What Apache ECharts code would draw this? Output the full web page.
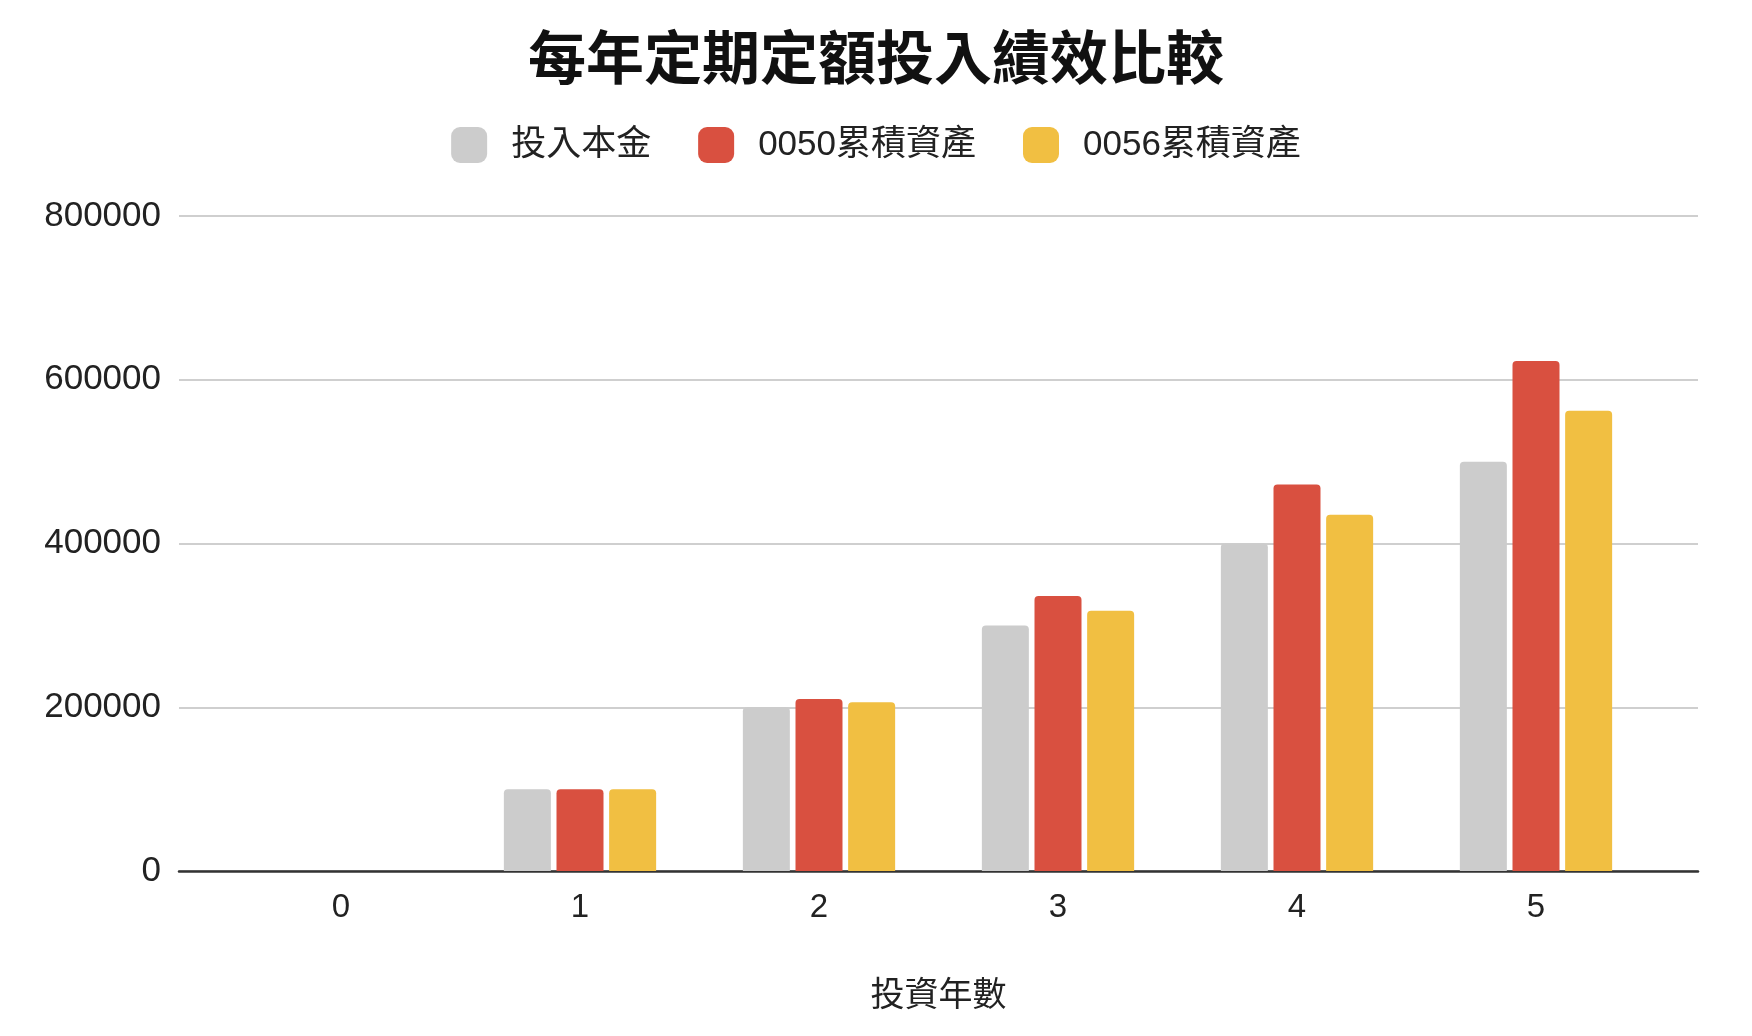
<!DOCTYPE html>
<html>
<head>
<meta charset="utf-8">
<script src="https://cdn.jsdelivr.net/npm/echarts@6/dist/echarts.min.js"></script>
<style>
html,body{margin:0;padding:0;background:#fff;}
#chart{width:1752px;height:1036px;}
</style>
</head>
<body>
<div id="chart"></div>
<script>
const titleText = '每年定期定額投入績效比較';
const xAxisName = '投資年數';
const categories = ['0', '1', '2', '3', '4', '5'];
const seriesNames = ['投入本金', '0050累積資產', '0056累積資產'];
const principal = [0, 100000, 200000, 300000, 400000, 500000];
const asset0050 = [0, 100000, 210000, 336000, 472000, 623000];
const asset0056 = [0, 100000, 206000, 318000, 435000, 562000];
const yTicks = [0, 200000, 400000, 600000, 800000];
const colors = ['#cccccc', '#d95040', '#f1bf42'];

const FONT = "'Liberation Sans', 'Noto Sans CJK TC', sans-serif";
const CJK = "'Noto Sans CJK TC', 'Liberation Sans', sans-serif";
const yMin = yTicks[0], yMax = yTicks[yTicks.length - 1];
const yInterval = yTicks[1] - yTicks[0];

const chart = echarts.init(document.getElementById('chart'), null, {renderer: 'canvas'});
const values = [principal, asset0050, asset0056];

chart.setOption({
  backgroundColor: '#ffffff',
  animation: false,
  title: {
    text: titleText,
    left: 'center',
    top: 23,
    textStyle: {fontFamily: CJK, fontSize: 58, fontWeight: 'bold', color: '#111'}
  },
  legend: {
    data: seriesNames,
    left: 'center',
    top: 122,
    itemWidth: 36,
    itemHeight: 36,
    itemGap: 47,
    icon: 'roundRect',
    textStyle: {fontFamily: FONT, fontSize: 35, color: '#222', padding: [0, 0, 0, 19]}
  },
  grid: [
    {left: 179, right: 54, top: 216, bottom: 165, containLabel: false},
    {left: 221.5, right: 96.5, top: 216, bottom: 165, containLabel: false}
  ],
  xAxis: [
    {
      gridIndex: 0, type: 'value', min: 0, max: 1,
      name: xAxisName, nameLocation: 'middle', nameGap: 105,
      nameTextStyle: {fontFamily: CJK, fontSize: 34, color: '#222'},
      axisLine: {show: true, lineStyle: {color: '#333', width: 2.5}},
      axisTick: {show: false}, axisLabel: {show: false}, splitLine: {show: false}
    },
    {
      gridIndex: 1, type: 'category', data: categories,
      axisLine: {show: false}, axisTick: {show: false},
      axisLabel: {fontFamily: FONT, fontSize: 33, color: '#222', margin: 20},
      splitLine: {show: false}
    }
  ],
  yAxis: [
    {
      gridIndex: 0, type: 'value', min: yMin, max: yMax, interval: yInterval,
      axisLine: {show: false}, axisTick: {show: false},
      axisLabel: {fontFamily: FONT, fontSize: 35, color: '#222', margin: 18,
        formatter: v => String(v)},
      splitLine: {show: true, lineStyle: {color: '#cfcfcf', width: 2}}
    },
    {
      gridIndex: 1, type: 'value', min: yMin, max: yMax, interval: yInterval,
      show: false, splitLine: {show: false}
    }
  ],
  series: seriesNames.map((name, i) => ({
    name: name,
    type: 'bar',
    xAxisIndex: 1,
    yAxisIndex: 1,
    data: values[i],
    barWidth: 47,
    barGap: '12%',
    itemStyle: {color: colors[i], borderRadius: [4, 4, 0, 0]}
  }))
});
</script>
</body>
</html>
